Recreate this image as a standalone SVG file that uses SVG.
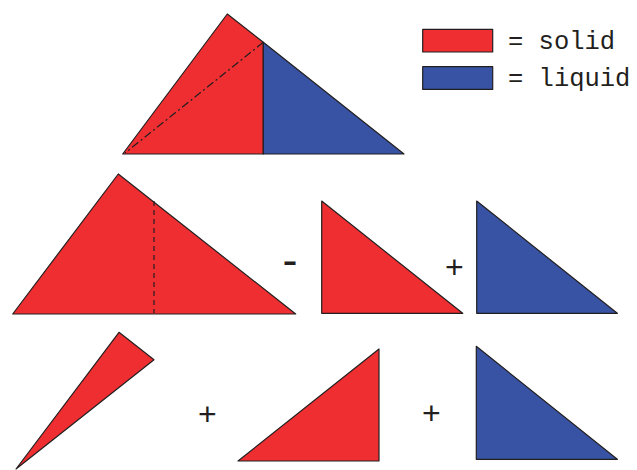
<svg xmlns="http://www.w3.org/2000/svg" width="637" height="470" viewBox="0 0 637 470">
<style>
.s{fill:#EE2E31;stroke:#231F20;stroke-width:1.2;stroke-linejoin:round}
.l{fill:#3853A4;stroke:#231F20;stroke-width:1.2;stroke-linejoin:round}
.d{fill:none;stroke:#231F20;stroke-width:1.2}
.op{font-family:"Liberation Sans",Arial,sans-serif;fill:#231F20;text-anchor:middle}
.lg{font-family:"Liberation Mono","Courier New",monospace;font-size:25.5px;fill:#231F20}
</style>
<rect width="637" height="470" fill="#fff"/>
<g id="top-triangle">
<polygon class="s" points="122.7,154 227.3,14 263.3,42.3 263.3,154"/>
<polygon class="l" points="263.3,42.3 404,154 263.3,154"/>
<line class="d" x1="263.3" y1="42.3" x2="125" y2="153" stroke-dasharray="8,3,2,3"/>
</g>
<g id="legend">
<rect class="s" x="422.7" y="29.3" width="70" height="22.7"/>
<rect class="l" x="422.7" y="66.7" width="70" height="22.7"/>
<text class="lg" x="508" y="48.5">= solid</text>
<text class="lg" x="508" y="85.5">= liquid</text>
</g>
<g id="middle-big">
<polygon class="s" points="12.7,314 118.3,174 295.7,314"/>
<line class="d" x1="154" y1="201" x2="154" y2="313" stroke-dasharray="5,4"/>
</g>
<g id="middle-red">
<polygon class="s" points="321.7,201 462.7,313.3 321.7,313.3"/>
</g>
<g id="middle-blue">
<polygon class="l" points="476.7,201 617.3,313.3 476.7,313.3"/>
</g>
<g id="bottom-sliver">
<polygon class="s" points="119,332.3 154,359.7 16,469"/>
</g>
<g id="bottom-red">
<polygon class="s" points="238,461 379,349 379,461"/>
</g>
<g id="bottom-blue">
<polygon class="l" points="476.3,346.3 617.3,459.3 476.3,459.3"/>
</g>
<g id="operators">
<text class="op" x="290" y="274.7" font-size="45">-</text>
<text class="op" x="454.3" y="278" font-size="32">+</text>
<text class="op" x="207.3" y="424.6" font-size="32">+</text>
<text class="op" x="431.3" y="424" font-size="32">+</text>
</g>
</svg>
